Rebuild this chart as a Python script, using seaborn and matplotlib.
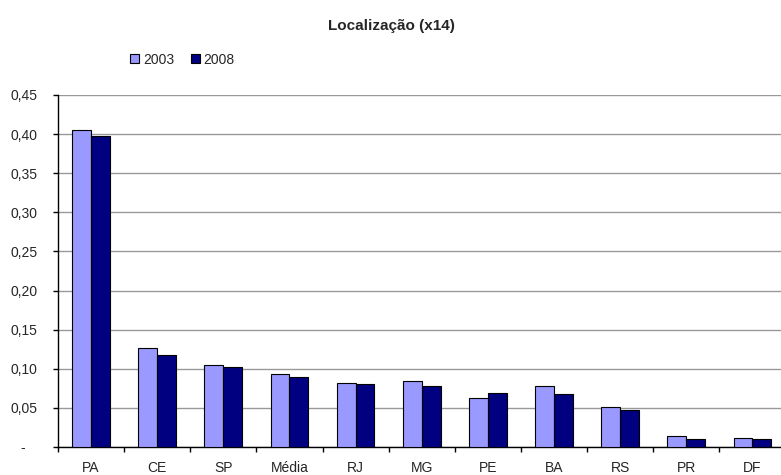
import numpy as np
import pandas as pd
import matplotlib
matplotlib.use("Agg")
import matplotlib.pyplot as plt
import seaborn as sns
from matplotlib.ticker import FixedLocator, FuncFormatter

states = ["PA", "CE", "SP", "Média", "RJ", "MG", "PE", "BA", "RS", "PR", "DF"]
val_2003 = [0.405, 0.126, 0.105, 0.093, 0.082, 0.084, 0.063, 0.078, 0.051, 0.014, 0.012]
val_2008 = [0.397, 0.117, 0.102, 0.090, 0.080, 0.078, 0.069, 0.068, 0.047, 0.010, 0.010]
years = ["2003", "2008"]
colors = {"2003": "#9999FF", "2008": "#000080"}

df = pd.DataFrame({
    "estado": states * 2,
    "ano": ["2003"] * len(states) + ["2008"] * len(states),
    "valor": val_2003 + val_2008,
})

sns.set_style("white")
plt.rcParams["font.family"] = ["Liberation Sans", "DejaVu Sans"]

fig = plt.figure(figsize=(7.81, 4.75), dpi=100)
ax = fig.add_axes([58 / 781, 1 - 447 / 475, 727.5 / 781, 352 / 475])

sns.barplot(data=df, x="estado", y="valor", hue="ano", hue_order=years,
            order=states, palette=colors, saturation=1, width=0.57, gap=0,
            edgecolor="black", linewidth=0.8, errorbar=None, ax=ax,
            zorder=3)

ax.set_ylim(0, 0.45)
ax.set_xlim(-0.5, len(states) - 0.5)
ax.set_yticks(np.arange(0, 0.451, 0.05))
# zero shown as a dash, Excel accounting style
ax.yaxis.set_major_formatter(FuncFormatter(
    lambda v, p: "-   " if abs(v) < 1e-9 else f"{v:.2f}".replace(".", ",")))
ax.grid(axis="y", color="#999999", linewidth=1, zorder=0)
ax.set_axisbelow(True)

for s in ["top", "right"]:
    ax.spines[s].set_visible(False)
for s in ["left", "bottom"]:
    ax.spines[s].set_color("black")
    ax.spines[s].set_linewidth(1)

ax.tick_params(axis="y", direction="out", length=3.6, width=1, color="black",
               labelsize=10, pad=11, left=True)
ax.tick_params(axis="x", which="major", length=0, labelsize=10, pad=10)
ax.xaxis.set_minor_locator(FixedLocator(np.arange(-0.5, len(states), 1)))
ax.tick_params(axis="x", which="minor", direction="out", length=3.6, width=1,
               color="black", bottom=True)

ax.set_xlabel("")
ax.set_ylabel("")

ax.legend(loc="center left", bbox_to_anchor=(130 / 781, 1 - 59.5 / 475),
          bbox_transform=fig.transFigure, ncol=2, frameon=False,
          fontsize=10, handlelength=0.65, handleheight=0.65, handletextpad=0.27,
          columnspacing=1.2, borderaxespad=0, borderpad=0)

fig.text(391 / 781, 1 - 26 / 475, "Localização (x14)", ha="center", va="center",
         fontsize=11, fontweight="bold")

fig.savefig("out.png", dpi=100)
